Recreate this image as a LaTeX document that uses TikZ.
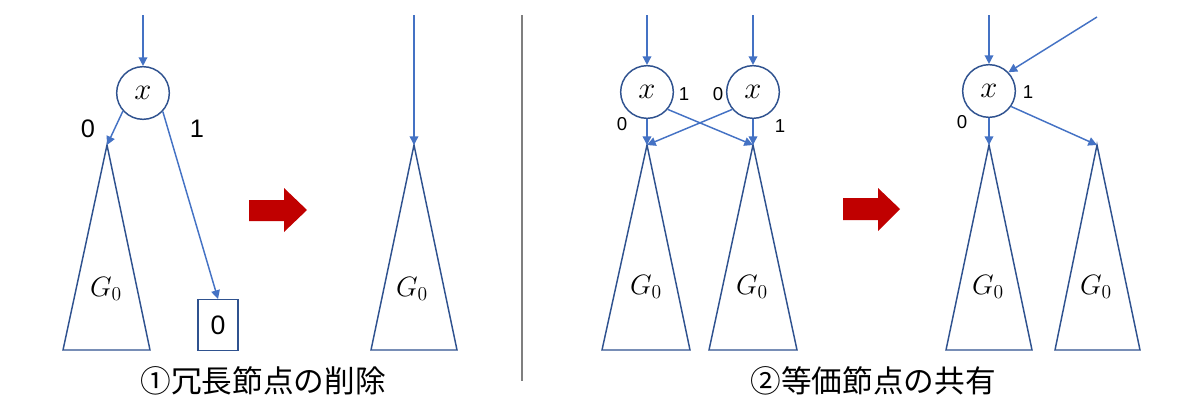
\RequirePackage{fix-cm}
\documentclass[tikz,border=0pt]{standalone}
\usepackage{fontspec}
\setmainfont{Liberation Sans}
\newfontfamily\cjk{Noto Sans CJK JP}
\usetikzlibrary{arrows.meta}
\definecolor{lineblue}{HTML}{4472C4}
\definecolor{darkblue}{HTML}{2F528F}
\definecolor{arrowred}{HTML}{C00000}
\definecolor{sepgray}{HTML}{7F7F7F}
\begin{document}
\begin{tikzpicture}[x=0.75pt,y=-0.75pt,
 conn/.style={draw=lineblue,line width=1.1pt,-{Triangle[width=6.5pt,length=6.5pt]}},
 varnode/.style={circle,draw=darkblue,line width=1.1pt,minimum size=39.5pt,inner sep=0pt,font=\fontsize{23}{26}\selectfont},
 subtree/.style={draw=darkblue,line width=1.1pt,line join=miter},
 leafbox/.style={draw=darkblue,line width=1.1pt,minimum width=30pt,minimum height=38pt,inner sep=0pt,font=\fontsize{20}{24}\selectfont},
 bigdigit/.style={font=\fontsize{19}{22}\selectfont,inner sep=0pt},
 smalldigit/.style={font=\fontsize{14}{16}\selectfont,inner sep=0pt},
 caption/.style={font=\cjk\fontsize{23}{27}\selectfont,inner sep=0pt},
 glabel/.style={font=\fontsize{21}{25}\selectfont,inner sep=0pt},
 bigarrow/.style={fill=arrowred,draw=none},
 separator/.style={draw=sepgray,line width=1pt}
]
\useasboundingbox (0,0) rectangle (1200,404);

% ---------- Panel 1: before ----------
\coordinate (in1) at (143,15);
\node[varnode] (c1) at (143,93) {$x$};
\coordinate (t1) at (107,145);
\draw[subtree] (t1) -- (150,350) -- (63,350) -- cycle;
\node[glabel] (g1) at (106,289) {$G_0$};
\node[leafbox] (leaf) at (218,325) {0};
\node[bigdigit] (l10) at (88,129) {0};
\node[bigdigit] (l11) at (197,129) {1};
\draw[conn] (in1) -- (c1);
\draw[conn] (c1.-138) -- (t1);
\draw[conn] (c1.-43) -- (leaf.north);

% red arrow 1
\fill[bigarrow] (249,200) -- (284,200) -- (284,188) -- (307,210) -- (284,232) -- (284,221) -- (249,221) -- cycle;

% ---------- Panel 1: after ----------
\coordinate (in2) at (414,15);
\coordinate (t2) at (414,145);
\draw[subtree] (t2) -- (457,350) -- (371,350) -- cycle;
\node[glabel] (g2) at (412,289) {$G_0$};
\draw[conn] (in2) -- (t2);

\node[caption] (cap1) at (263,381) {①冗長節点の削除};

% separator
\draw[separator] (522,15) -- (522,381);

% ---------- Panel 2: before ----------
\coordinate (in3) at (647,15);
\coordinate (in4) at (753,15);
\node[varnode] (c2) at (647,92) {$x$};
\node[varnode] (c3) at (753,92) {$x$};
\coordinate (t3) at (647,145);
\coordinate (t4) at (753,145);
\draw[subtree] (t3) -- (690,350) -- (602,350) -- cycle;
\draw[subtree] (t4) -- (797,350) -- (709,350) -- cycle;
\node[glabel] (g3) at (646,287) {$G_0$};
\node[glabel] (g4) at (752,287) {$G_0$};
\node[smalldigit] (l20) at (622,124) {0};
\node[smalldigit] (l21) at (684,94) {1};
\node[smalldigit] (l30) at (718,94) {0};
\node[smalldigit] (l31) at (780,126) {1};
\draw[conn] (in3) -- (c2);
\draw[conn] (in4) -- (c3);
\draw[conn] (c2) -- (t3);
\draw[conn] (c3) -- (t4);
\draw[conn] (c2.-40) -- (t4);
\draw[conn] (c3.-140) -- (t3);

% red arrow 2
\fill[bigarrow] (843,198) -- (878,198) -- (878,188) -- (900,209) -- (878,231) -- (878,220) -- (843,220) -- cycle;

% ---------- Panel 2: after ----------
\coordinate (in5) at (989,15);
\coordinate (in6) at (1097,17);
\node[varnode] (c4) at (989,91) {$x$};
\coordinate (t5) at (989,145);
\coordinate (t6) at (1097,145);
\draw[subtree] (t5) -- (1032,350) -- (946,350) -- cycle;
\draw[subtree] (t6) -- (1140,350) -- (1055,350) -- cycle;
\node[glabel] (g5) at (988,287) {$G_0$};
\node[glabel] (g6) at (1096,287) {$G_0$};
\node[smalldigit] (l40) at (962,122) {0};
\node[smalldigit] (l41) at (1028,92) {1};
\draw[conn] (in5) -- (c4);
\draw[conn] (in6) -- (c4.44);
\draw[conn] (c4) -- (t5);
\draw[conn] (c4.-35) -- (t6);

\node[caption] (cap2) at (873,381) {②等価節点の共有};
\end{tikzpicture}
\end{document}
